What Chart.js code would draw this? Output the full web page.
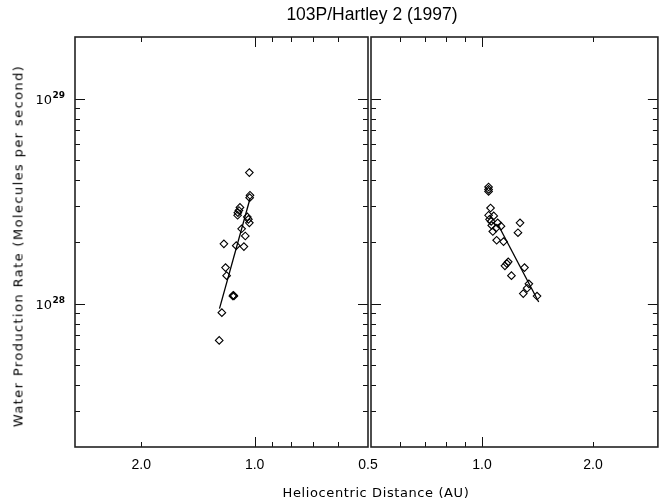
<!DOCTYPE html>
<html><head><meta charset="utf-8">
<script src="https://cdn.jsdelivr.net/npm/chart.js@4/dist/chart.umd.min.js"></script>
<style>
html,body{margin:0;padding:0;background:#fff;}
#wrap{position:relative;width:663px;height:504px;overflow:hidden;background:#fff;}
canvas{position:absolute;left:0;top:0;}
.t{position:absolute;white-space:nowrap;color:#000;transform:translate(-50%,-50%);}
#title{left:372px;top:14px;font:17.5px "Liberation Sans",Arial,sans-serif;}
#xt{left:376px;top:492px;font:13px "DejaVu Sans",sans-serif;letter-spacing:0.6px;}
#yt{left:18px;top:246px;font:13px "DejaVu Sans",sans-serif;letter-spacing:1.4px;transform:translate(-50%,-50%) rotate(-90deg);}
</style></head><body>
<div id="wrap">
<canvas id="cL" width="663" height="504" style="width:663px;height:504px"></canvas>
<canvas id="cR" width="663" height="504" style="width:663px;height:504px"></canvas>
<div class="t" id="title">103P/Hartley 2 (1997)</div>
<div class="t" id="xt">Heliocentric Distance (AU)</div>
<div class="t" id="yt">Water Production Rate (Molecules per second)</div>
</div>
<script>
// ---- data ----
// Left panel: pre-perihelion, heliocentric distance (AU) vs water production rate
const leftDist = [1.033,1.029,1.031,1.094,1.101,1.108,1.110,1.046,1.039,1.033,1.083,1.059,1.207,1.119,1.068,1.195,1.187,1.143,1.135,1.139,1.222,1.242];
const leftRate = [4.36e28,3.38e28,3.29e28,2.95e28,2.85e28,2.78e28,2.70e28,2.65e28,2.58e28,2.48e28,2.32e28,2.14e28,1.96e28,1.92e28,1.90e28,1.50e28,1.37e28,1.09e28,1.09e28,1.10e28,9.04e27,6.62e27];
const leftFitDist = [1.240, 1.029];
const leftFitRate = [9.46e27, 3.25e28];
// Right panel: post-perihelion
const rightDist = [1.042,1.042,1.042,1.055,1.042,1.076,1.048,1.059,1.103,1.126,1.063,1.092,1.070,1.268,1.252,1.096,1.144,1.178,1.168,1.154,1.304,1.202,1.340,1.326,1.294,1.410];
const rightRate = [3.71e28,3.61e28,3.53e28,2.93e28,2.70e28,2.68e28,2.58e28,2.52e28,2.48e28,2.39e28,2.41e28,2.34e28,2.25e28,2.48e28,2.22e28,2.04e28,2.01e28,1.60e28,1.57e28,1.53e28,1.50e28,1.37e28,1.25e28,1.19e28,1.12e28,1.09e28];
const rightFitDist = [1.103, 1.425];
const rightFitRate = [2.45e28, 1.02e28];
// ticks
const leftXTicks = [2.0, 1.0, 0.5];
const rightXTicks = [1.0, 2.0];
const xTickLabels = {0.5:'0.5', 1:'1.0', 2:'2.0'};
const xMinorTicks = [0.6, 0.7, 0.8, 0.9, 2.0, 3.0];
const xMajorTicks = [1.0];
const yTickValues = [1e28, 1e29];
const yTickBase = ['10', '10'];
const yTickExp = ['28', '29'];
const yMinorTicks = [3e27,4e27,5e27,6e27,7e27,8e27,9e27,2e28,3e28,4e28,5e28,6e28,7e28,8e28,9e28,2e29];
const xRange = [0.5, 3.0];
const yRange = [2e27, 2e29];

const toPts = (xs, ys) => xs.map((v, i) => ({x: v, y: ys[i]}));

const framePlugin = {
  id: 'frame',
  afterDraw(chart) {
    const {ctx, chartArea: a, scales: {x, y}} = chart;
    ctx.save();
    ctx.strokeStyle = '#111';
    ctx.lineWidth = 1;
    ctx.beginPath();
    xMinorTicks.concat(xMajorTicks).forEach(v => {
      const px = Math.round(x.getPixelForValue(v)) + 0.5;
      if (px < a.left + 1 || px > a.right - 1) return;
      const L = xMajorTicks.includes(v) ? 10 : 5;
      ctx.moveTo(px, a.bottom); ctx.lineTo(px, a.bottom - L);
      ctx.moveTo(px, a.top); ctx.lineTo(px, a.top + L);
    });
    yMinorTicks.concat(yTickValues).forEach(v => {
      const py = Math.round(y.getPixelForValue(v)) + 0.5;
      if (py < a.top + 1 || py > a.bottom - 1) return;
      const L = yTickValues.includes(v) ? 10 : 5;
      ctx.moveTo(a.left, py); ctx.lineTo(a.left + L, py);
      ctx.moveTo(a.right, py); ctx.lineTo(a.right - L, py);
    });
    ctx.stroke();
    ctx.lineWidth = 1.6;
    ctx.strokeStyle = '#222';
    ctx.strokeRect(a.left, a.top, a.right - a.left, a.bottom - a.top);
    // y tick labels (10 with superscript exponent), positioned by the y scale
    if (chart.options.scales.y.display) {
      ctx.fillStyle = '#000';
      ctx.textBaseline = 'alphabetic';
      yTickValues.forEach((v, i) => {
        const py = y.getPixelForValue(v);
        ctx.font = '13px "DejaVu Sans", sans-serif';
        ctx.textAlign = 'right';
        ctx.fillText(yTickBase[i], 52, py + 5);
        ctx.font = 'bold 9px "DejaVu Sans", sans-serif';
        ctx.textAlign = 'left';
        ctx.fillText(yTickExp[i], 52.5, py - 1);
      });
    }
    ctx.restore();
  }
};

function makeChart(id, pts, fitX, fitY, reverse, xTicks, pad, showY) {
  return new Chart(document.getElementById(id), {
    data: {
      datasets: [
        {type: 'scatter', data: toPts(pts[0], pts[1]), pointStyle: 'rectRot', pointRadius: 3.8,
         borderColor: '#000', borderWidth: 1.1, backgroundColor: 'rgba(255,255,255,0)'},
        {type: 'line', data: toPts(fitX, fitY), borderColor: '#000', borderWidth: 1.3,
         pointRadius: 0, fill: false, tension: 0}
      ]
    },
    options: {
      responsive: false, animation: false, devicePixelRatio: 1,
      layout: {padding: pad},
      plugins: {legend: {display: false}, tooltip: {enabled: false}, title: {display: false}},
      scales: {
        x: {
          type: 'logarithmic', reverse: reverse, min: xRange[0], max: xRange[1],
          grid: {display: false, drawTicks: false}, border: {display: false},
          afterBuildTicks: s => { s.ticks = xTicks.map(v => ({value: v})); },
          afterFit: s => { s.height = 57; },
          ticks: {padding: 10, color: '#000', maxRotation: 0, autoSkip: false,
                  font: {family: 'Liberation Sans, Arial, sans-serif', size: 14},
                  callback: v => xTickLabels[v] || ''}
        },
        y: {
          type: 'logarithmic', min: yRange[0], max: yRange[1], display: showY,
          grid: {display: false, drawTicks: false}, border: {display: false},
          afterBuildTicks: s => { s.ticks = yTickValues.map(v => ({value: v})); },
          afterFit: s => { s.width = showY ? 75 : 0; },
          ticks: {display: false}
        }
      }
    },
    plugins: [framePlugin]
  });
}

makeChart('cL', [leftDist, leftRate], leftFitDist, leftFitRate, true, leftXTicks,
  {top: 37, right: 295, left: 0, bottom: 0}, true);
makeChart('cR', [rightDist, rightRate], rightFitDist, rightFitRate, false, rightXTicks,
  {top: 37, right: 1, left: 371, bottom: 0}, false);
</script>
</body></html>
